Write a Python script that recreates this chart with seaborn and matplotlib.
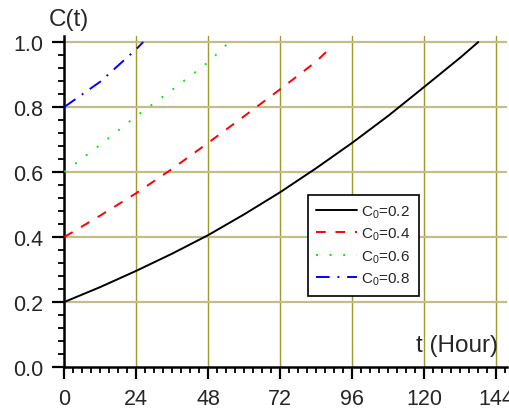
import matplotlib

matplotlib.use("Agg")

import matplotlib.pyplot as plt
import numpy as np
import pandas as pd
import seaborn as sns
from matplotlib.ticker import MultipleLocator, FormatStrFormatter

# values
t_c02 = [0, 12, 24, 36, 48, 60, 72, 84, 96, 108, 120, 132, 138]
c_c02 = [0.2, 0.246, 0.296, 0.349, 0.406, 0.47, 0.538, 0.612, 0.69, 0.773, 0.862, 0.952, 1.0]
t_c04 = [0, 12, 24, 36, 48, 60, 72, 84, 89]
c_c04 = [0.4, 0.466, 0.535, 0.61, 0.69, 0.772, 0.855, 0.94, 0.985]
t_c06 = [0, 12, 24, 36, 48, 55]
c_c06 = [0.6, 0.684, 0.772, 0.853, 0.938, 1.0]
t_c08 = [0, 12, 24, 26.3]
c_c08 = [0.8, 0.878, 0.978, 1.0]
labels = [r"C$_0$=0.2", r"C$_0$=0.4", r"C$_0$=0.6", r"C$_0$=0.8"]
x_ticks = [0, 24, 48, 72, 96, 120, 144]
y_ticks = [0.0, 0.2, 0.4, 0.6, 0.8, 1.0]

sns.set_theme(style="white")
plt.rcParams.update(
    {
        "font.family": ["Liberation Sans", "DejaVu Sans"],
        "mathtext.fontset": "custom",
        "mathtext.rm": "Liberation Sans",
        "mathtext.it": "Liberation Sans:italic",
        "mathtext.bf": "Liberation Sans:bold",
    }
)

fig = plt.figure(figsize=(5.1, 4.1), dpi=100)
ax = fig.add_axes([64.3 / 510, 1 - 368 / 410, (507 - 64.3) / 510, (368 - 37) / 410])

series = [
    (t_c02, c_c02, "black", "-"),
    (t_c04, c_c04, "#ff0000", (0, (5, 5))),
    (t_c06, c_c06, "#00ee00", (0, (1, 6))),
    (t_c08, c_c08, "#0000ff", (0, (7, 4, 1, 4))),
]
for (t, c, color, ls), label in zip(series, labels):
    frame = pd.DataFrame({"t": t, "c": c})
    sns.lineplot(data=frame, x="t", y="c", color=color, linestyle=ls, linewidth=1.4,
                 label=label, ax=ax, zorder=3)

ax.set_xlim(0, (507 - 64.3) / 3)
ax.set_ylim(0, (368 - 37) / 325)
ax.set_xticks(x_ticks)
ax.set_yticks(y_ticks)
ax.yaxis.set_major_formatter(FormatStrFormatter("%.1f"))
ax.xaxis.set_minor_locator(MultipleLocator(3))
ax.yaxis.set_minor_locator(MultipleLocator(0.04))
ax.tick_params(which="major", direction="out", length=8.5, width=1.6, labelsize=15.5,
               color="black", pad=6.5, left=True, bottom=True)
ax.tick_params(which="minor", direction="out", length=4.2, width=1.3, color="black",
               left=True, bottom=True)

for xv in x_ticks[1:]:
    ax.axvline(xv, color="#9c9a2c", linewidth=1.0, zorder=1)
for yv in y_ticks[1:]:
    ax.axhline(yv, color="#c2be8a", linewidth=1.6, zorder=1)

for side in ["top", "right"]:
    ax.spines[side].set_visible(False)
for side in ["left", "bottom"]:
    ax.spines[side].set_color("black")
    ax.spines[side].set_linewidth(1.8)
ax.set_xlabel("")
ax.set_ylabel("")

leg = ax.legend(loc="upper left", bbox_to_anchor=(0.55, 0.52), borderaxespad=0,
                fontsize=11, frameon=True, fancybox=False, handlelength=2.7,
                handletextpad=0.25, labelspacing=0.4, borderpad=0.55)
leg.get_frame().set_edgecolor("black")
leg.get_frame().set_linewidth(1.2)
leg.get_frame().set_alpha(1)

fig.text(49 / 510, 1 - 9 / 410, "C(t)", fontsize=17.5, ha="left", va="top")
fig.text(498 / 510, 1 - 352 / 410, "t (Hour)", fontsize=17.5, ha="right", va="baseline")

fig.savefig("out.png", dpi=100, facecolor="white")
